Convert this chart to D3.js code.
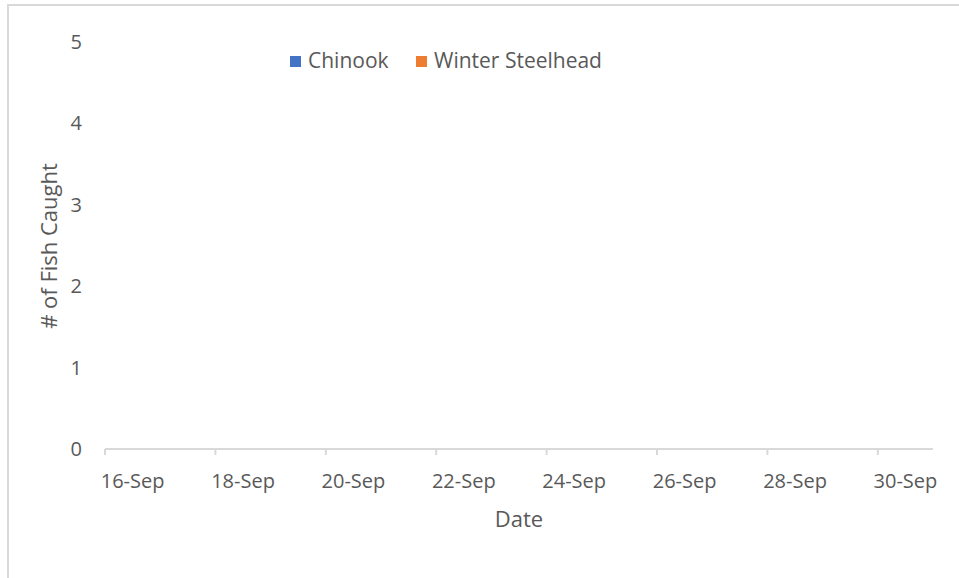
<!DOCTYPE html>
<html lang="en">
<head>
  <meta charset="UTF-8" />
  <title>Fish Caught</title>
  <script src="https://cdn.jsdelivr.net/npm/d3@7"></script>
  <style>
    body { margin: 0; background: #fff; font-family: 'Open Sans', 'Noto Sans', sans-serif; }
    svg { display: block; }
    .tick text { fill: #595959; }
  </style>
</head>
<body>
<svg id="chart" width="959" height="578"></svg>
<script>
  // categories (one per day) and series values - nothing caught in this period
  const dates = ["16-Sep", "17-Sep", "18-Sep", "19-Sep", "20-Sep", "21-Sep", "22-Sep", "23-Sep",
                 "24-Sep", "25-Sep", "26-Sep", "27-Sep", "28-Sep", "29-Sep", "30-Sep"];
  const chinook = [0, 0, 0, 0, 0, 0, 0, 0, 0, 0, 0, 0, 0, 0, 0];
  const winterSteelhead = [0, 0, 0, 0, 0, 0, 0, 0, 0, 0, 0, 0, 0, 0, 0];
  const seriesNames = ["Chinook", "Winter Steelhead"];
  const seriesColors = ["#4472C4", "#ED7D31"];
  const yTicks = [0, 1, 2, 3, 4, 5];

  const svg = d3.select("#chart");
  const margin = { left: 105, right: 26, top: 42, bottom: 129 };
  const width = 959, height = 578;

  // chart border (cropped on right and bottom in the original)
  svg.append("rect")
    .attr("x", 8).attr("y", 5)
    .attr("width", 980).attr("height", 600)
    .attr("fill", "none")
    .attr("stroke", "#d9d9d9")
    .attr("stroke-width", 2);

  const x = d3.scaleBand()
    .domain(dates)
    .range([margin.left, width - margin.right])
    .paddingInner(0.4).paddingOuter(0.2);

  const y = d3.scaleLinear()
    .domain([0, 5])
    .range([height - margin.bottom, margin.top]);

  // bars (all zero height)
  const sub = d3.scaleBand().domain(seriesNames).range([0, x.bandwidth()]);
  const series = [chinook, winterSteelhead];
  series.forEach((vals, i) => {
    svg.append("g").selectAll("rect")
      .data(vals)
      .enter().append("rect")
      .attr("x", (d, j) => x(dates[j]) + sub(seriesNames[i]))
      .attr("width", sub.bandwidth())
      .attr("y", d => y(d))
      .attr("height", d => y(0) - y(d))
      .attr("fill", seriesColors[i]);
  });

  // y axis: labels only
  const yAxis = svg.append("g")
    .attr("transform", `translate(${margin.left},0)`)
    .call(d3.axisLeft(y).tickValues(yTicks).tickFormat(d3.format("d")).tickSize(0).tickPadding(23));
  yAxis.select(".domain").remove();
  yAxis.selectAll("text").attr("font-size", 20).attr("font-family", "'Open Sans', sans-serif");

  // x axis: line with ticks at category boundaries every 2 days
  const xLine = svg.append("g");
  const x0 = margin.left, x1 = width - margin.right, yb = y(0);
  const step = (x1 - x0) / dates.length;
  xLine.append("line")
    .attr("x1", x0).attr("x2", x1)
    .attr("y1", yb).attr("y2", yb)
    .attr("stroke", "#d9d9d9").attr("stroke-width", 2);
  const labelled = dates.filter((d, i) => i % 2 === 0);
  xLine.selectAll("line.tk")
    .data(labelled)
    .enter().append("line")
    .attr("class", "tk")
    .attr("x1", d => x0 + dates.indexOf(d) * step)
    .attr("x2", d => x0 + dates.indexOf(d) * step)
    .attr("y1", yb).attr("y2", yb + 6)
    .attr("stroke", "#d9d9d9").attr("stroke-width", 2);
  xLine.selectAll("text")
    .data(labelled)
    .enter().append("text")
    .attr("x", d => x(d) + x.bandwidth() / 2)
    .attr("y", yb + 39)
    .attr("text-anchor", "middle")
    .attr("font-size", 20)
    .attr("fill", "#595959")
    .text(d => d);

  // axis titles
  svg.append("text")
    .attr("x", (x0 + x1) / 2)
    .attr("y", 527)
    .attr("text-anchor", "middle")
    .attr("font-size", 22)
    .attr("fill", "#595959")
    .text("Date");

  svg.append("text")
    .attr("transform", "translate(57,246) rotate(-90)")
    .attr("text-anchor", "middle")
    .attr("font-size", 22)
    .attr("fill", "#595959")
    .text("# of Fish Caught");

  // legend
  const legend = svg.append("g").attr("transform", "translate(290,52)");
  const legendX = [0, 126];
  seriesNames.forEach((name, i) => {
    const g = legend.append("g").attr("transform", `translate(${legendX[i]},0)`);
    g.append("rect").attr("width", 11).attr("height", 11).attr("y", 4).attr("fill", seriesColors[i]);
    g.append("text").attr("x", 18).attr("y", 16)
      .attr("font-size", 21).attr("fill", "#595959").text(name);
  });
</script>
</body>
</html>
